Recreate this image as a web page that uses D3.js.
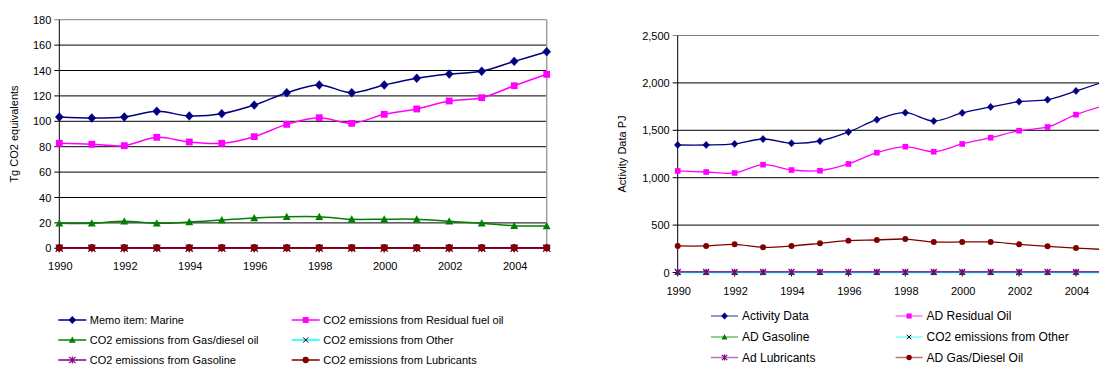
<!DOCTYPE html>
<html><head><meta charset="utf-8">
<script src="https://cdn.jsdelivr.net/npm/d3@7"></script>
<style>body{margin:0;background:#fff}svg{display:block;font-family:"Liberation Sans",Arial,sans-serif}</style>
</head><body><div id="c"></div>
<script>
const years = d3.range(1990, 2006);
const tickYears = [1990,1992,1994,1996,1998,2000,2002,2004];
// Left chart (Tg CO2 equivalents)
const leftNames = ["Memo item: Marine","CO2 emissions from Residual fuel oil","CO2 emissions from Gas/diesel oil","CO2 emissions from Other","CO2 emissions from Gasoline","CO2 emissions from Lubricants"];
const marine = [103.4,102.6,103.4,107.9,104.2,106.0,112.8,122.5,128.6,122.5,128.6,133.9,137.2,139.4,147.2,154.8];
const residualFuel = [82.7,81.9,80.8,87.4,83.7,82.7,87.9,97.6,102.8,98.4,105.5,109.7,116.0,118.6,128.0,137.0];
const gasDiesel = [19.7,19.7,21.3,19.7,20.7,22.3,23.9,24.9,24.9,22.8,22.9,22.9,21.3,19.7,17.8,17.6];
const otherCO2 = [0,0,0,0,0,0,0,0,0,0,0,0,0,0,0,0];
const gasolineCO2 = [0.1,0.1,0.1,0.1,0.1,0.1,0.1,0.1,0.1,0.1,0.1,0.1,0.1,0.1,0.1,0.1];
const lubricantsCO2 = [0.5,0.5,0.5,0.5,0.5,0.5,0.5,0.5,0.5,0.5,0.5,0.5,0.5,0.5,0.5,0.5];
const leftTicks = [0,20,40,60,80,100,120,140,160,180];
// Right chart (Activity Data PJ)
const rightNames = ["Activity Data","AD Residual Oil","AD Gasoline","CO2 emissions from Other","Ad Lubricants","AD Gas/Diesel Oil"];
const activityData = [1345,1345,1356,1408,1363,1387,1482,1612,1686,1598,1683,1746,1802,1823,1915,2015];
const adResidual = [1071,1060,1050,1137,1081,1074,1145,1264,1327,1274,1356,1422,1496,1535,1665,1762];
const adGasoline = [2,2,2,2,2,2,2,2,2,2,2,2,2,2,2,2];
const adOther = [0,0,0,0,0,0,0,0,0,0,0,0,0,0,0,0];
const adLubricants = [6,6,6,6,6,6,6,6,6,6,6,6,6,6,6,6];
const adGasDiesel = [280,280,297,266,280,308,336,343,353,322,322,322,297,276,258,242];
const rightTicks = [0,500,1000,1500,2000,2500];

const W=1099,H=367;
const svg=d3.select("#c").append("svg").attr("width",W).attr("height",H);

const colors = {diamond:"#000080",square:"#FF00FF",triangle:"#008000",x:"#00FFFF",star:"#800080",circle:"#800000"};

function marker(g, type, color, s){
  if(type==="diamond"){
    g.append("path").attr("d",`M0,${-s*1.1}L${s},0L0,${s*1.1}L${-s},0Z`).attr("fill",color).attr("stroke",color).attr("stroke-width",0.5);
  } else if(type==="square"){
    g.append("rect").attr("x",-s*0.85).attr("y",-s*0.85).attr("width",s*1.7).attr("height",s*1.7).attr("fill",color);
  } else if(type==="triangle"){
    g.append("path").attr("d",`M0,${-s}L${s},${s*0.8}L${-s},${s*0.8}Z`).attr("fill",color);
  } else if(type==="circle"){
    g.append("circle").attr("r",s*0.9).attr("fill",color);
  } else if(type==="x"){
    g.append("path").attr("d",`M${-s*0.75},${-s*0.75}L${s*0.75},${s*0.75}M${s*0.75},${-s*0.75}L${-s*0.75},${s*0.75}`).attr("stroke","#000").attr("stroke-width",1);
  } else if(type==="star"){
    const r=s*0.9;
    g.append("path").attr("d",`M${-r},${-r}L${r},${r}M${r},${-r}L${-r},${r}M0,${-r*1.1}L0,${r*1.1}`).attr("stroke",color).attr("stroke-width",1.2);
  }
}

function drawChart(cfg){
  const {x,y,ticks,series,fmt,bottom,top,left,right,title,titleX,labelY,msize,legend,legendOpacity,drawRightBorder} = cfg;
  const g=svg.append("g");
  ticks.forEach(t=>{
    if(t===0) return;
    g.append("line").attr("x1",left-5).attr("x2",Math.min(right,W)).attr("y1",y(t)).attr("y2",y(t))
      .attr("stroke", t===ticks[ticks.length-1]?"#808080":"#000").attr("stroke-width",1);
  });
  if(drawRightBorder){
    g.append("line").attr("x1",right).attr("x2",right).attr("y1",top).attr("y2",bottom).attr("stroke","#a0a0a0").attr("stroke-width",1.5);
  }
  g.append("line").attr("x1",left).attr("x2",left).attr("y1",top).attr("y2",bottom+0.5).attr("stroke","#000");
  g.append("line").attr("x1",left-5).attr("x2",Math.min(right,W)).attr("y1",bottom).attr("y2",bottom).attr("stroke","#000");
  ticks.forEach(t=>{
    g.append("text").attr("x",left-8).attr("y",y(t)+4).attr("text-anchor","end").attr("font-size",11).attr("fill","#000").text(fmt(t));
  });
  tickYears.forEach(t=>{
    g.append("line").attr("x1",x(t)).attr("x2",x(t)).attr("y1",bottom).attr("y2",bottom+4).attr("stroke","#000");
    g.append("text").attr("x",x(t)+1).attr("y",labelY).attr("text-anchor","middle").attr("font-size",11).attr("fill","#000").text(t);
  });
  g.append("text").attr("transform",`translate(${titleX},${(top+bottom)/2}) rotate(-90)`).attr("text-anchor","middle").attr("font-size",11).attr("fill","#000").text(title);
  const line=d3.line().x((d,i)=>x(years[i])).y(d=>y(d)).curve(d3.curveCatmullRom.alpha(0.5));
  series.forEach(s=>{
    g.append("path").attr("d",line(s.values)).attr("fill","none").attr("stroke",s.color).attr("stroke-width",s.lw||1.5);
    s.values.forEach((v,i)=>{
      const mg=g.append("g").attr("transform",`translate(${x(years[i])},${y(v)})`);
      marker(mg,s.mk,s.color,msize);
    });
  });
  series.forEach((s,i)=>{
    const col=i%2,row=Math.floor(i/2);
    const lx=legend.cols[col], ly=legend.rows[row];
    const lg=g.append("g");
    lg.append("line").attr("x1",lx).attr("x2",lx+legend.len).attr("y1",ly).attr("y2",ly).attr("stroke",s.color).attr("stroke-width",1.5).attr("stroke-opacity",legendOpacity);
    const mg=lg.append("g").attr("transform",`translate(${lx+legend.len/2},${ly})`);
    marker(mg,s.mk,s.color,legend.ms);
    lg.append("text").attr("x",lx+legend.len+legend.gap).attr("y",ly+4).attr("font-size",legend.fs).attr("fill","#000").text(s.name);
  });
}

const mkOrder=["diamond","square","triangle","x","star","circle"];

// Left chart
const xL=d3.scaleLinear().domain([1990,2005]).range([59.3,546.7]);
const yL=d3.scaleLinear().domain([0,180]).range([248.3,19.7]);
const leftVals=[marine,residualFuel,gasDiesel,otherCO2,gasolineCO2,lubricantsCO2];
drawChart({
  x:xL,y:yL,ticks:leftTicks,fmt:d3.format(","),bottom:248.3,top:19.7,left:59.3,right:546.7,
  title:"Tg CO2 equivalents",titleX:18,labelY:270,msize:4,drawRightBorder:true,legendOpacity:1,
  series:leftVals.map((v,i)=>({values:v,name:leftNames[i],color:colors[mkOrder[i]],mk:mkOrder[i]})),
  legend:{cols:[58.3,291.7],rows:[320,340,360],len:28,ms:3.5,gap:3.5,fs:11}
});

// Right chart
const xR=d3.scaleLinear().domain([1990,2004]).range([677.7,1076]);
const yR=d3.scaleLinear().domain([0,2500]).range([272.5,35.5]);
const rightVals=[activityData,adResidual,adGasoline,adOther,adLubricants,adGasDiesel];
drawChart({
  x:xR,y:yR,ticks:rightTicks,fmt:d3.format(","),bottom:272.5,top:35.5,left:677.7,right:xR(2005),
  title:"Activity Data PJ",titleX:626,labelY:295,msize:3.3,drawRightBorder:false,legendOpacity:0.55,
  series:rightVals.map((v,i)=>({values:v,name:rightNames[i],color:colors[mkOrder[i]],mk:mkOrder[i],lw:1.3})),
  legend:{cols:[711,895.6],rows:[316,337,357.5],len:27,ms:3,gap:4,fs:12}
});
</script></body></html>
